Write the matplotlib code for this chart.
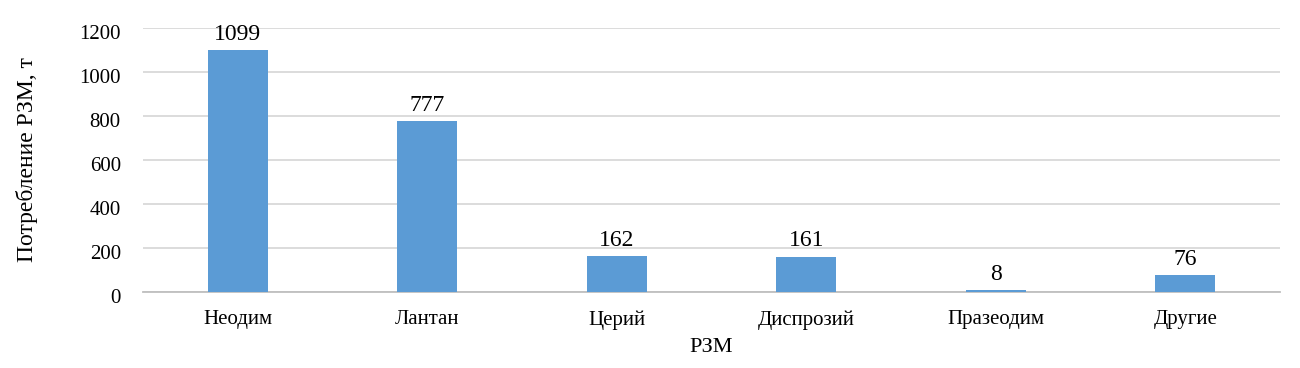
import matplotlib
matplotlib.use("Agg")
import matplotlib.pyplot as plt
import matplotlib.transforms as mtransforms

categories = ["Неодим", "Лантан", "Церий", "Диспрозий", "Празеодим", "Другие"]
values = [1099, 777, 162, 161, 8, 76]
yticks = [0, 200, 400, 600, 800, 1000, 1200]

plt.rcParams['font.family'] = ['Liberation Serif', 'DejaVu Serif']

fig = plt.figure(figsize=(13, 3.68), dpi=100)
ax = fig.add_axes([143/1300, 1 - 292/368, (1280 - 143)/1300, (292 - 28)/368])

x = range(len(categories))
bars = ax.bar(x, values, width=0.315, color='#5b9bd5', zorder=3)
for b, v in zip(bars, values):
    ax.annotate(str(v), (b.get_x() + b.get_width()/2, v), xytext=(0, 4),
                textcoords='offset points', ha='center', va='bottom', fontsize=17)

ax.set_xlim(-0.5, len(categories) - 0.5)
ax.set_ylim(0, 1200)
ax.set_yticks(yticks)
ax.set_xticks(list(x))
ax.set_xticklabels(categories)
ax.tick_params(axis='both', length=0, labelsize=15)
ax.tick_params(axis='y', pad=16)
ax.tick_params(axis='x', pad=13)
ax.grid(axis='y', color='#d9d9d9', linewidth=1.3, zorder=0)
for s in ['top', 'right', 'left']:
    ax.spines[s].set_visible(False)
ax.spines['bottom'].set_color('#bfbfbf')
ax.spines['bottom'].set_linewidth(1.3)

# y tick labels sit a little below their gridlines in the original
shift = mtransforms.ScaledTranslation(0, -4/100, fig.dpi_scale_trans)
for lbl in ax.get_yticklabels():
    lbl.set_transform(lbl.get_transform() + shift)

ax.set_ylabel("Потребление РЗМ, т", fontsize=17, labelpad=30)
ax.set_xlabel("РЗМ", fontsize=16, labelpad=6)

fig.savefig("out.png", dpi=100)
